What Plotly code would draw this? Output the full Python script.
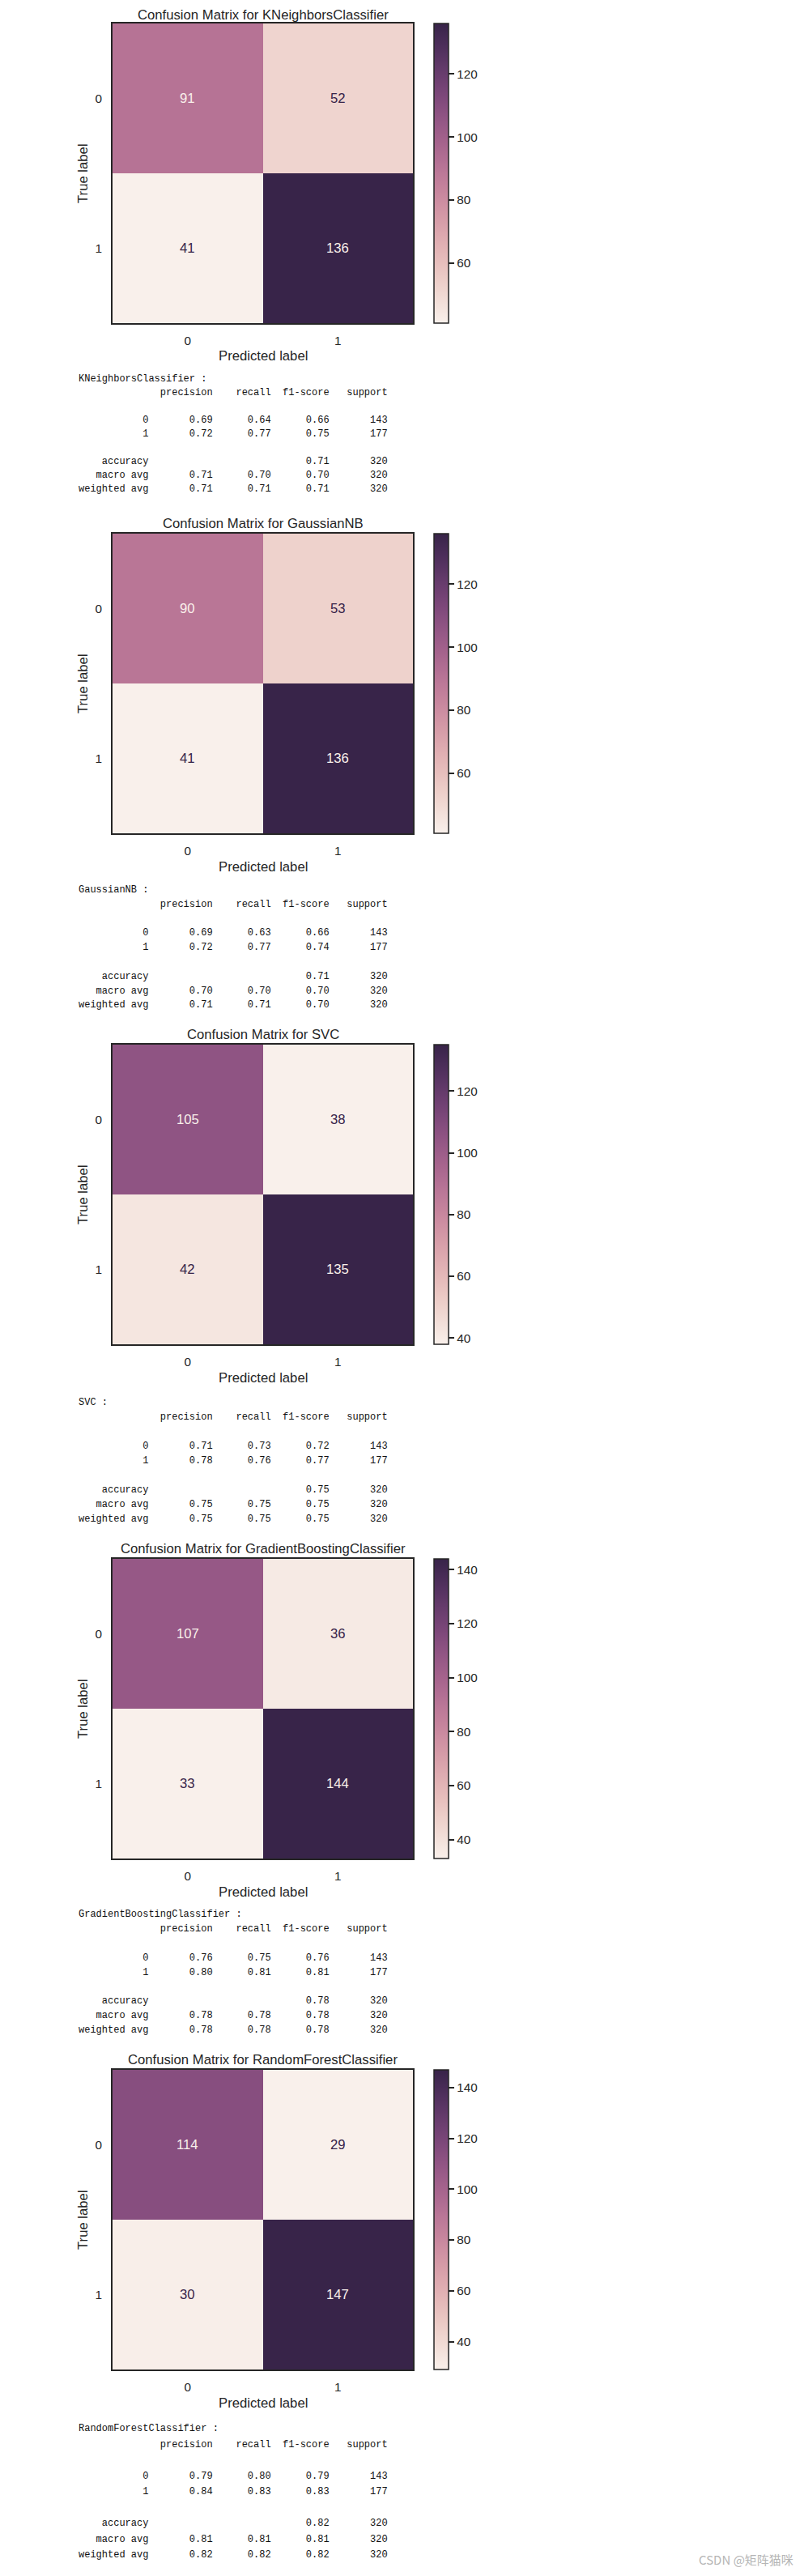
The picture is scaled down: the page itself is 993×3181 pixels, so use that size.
import numpy as np
import plotly.graph_objects as go

PAGE_W, PAGE_H = 993, 3181
OFF = 8  # default body margin of the html page
W, H = PAGE_W - 2 * OFF, PAGE_H - 2 * OFF

# ---------------- data ----------------
models = ["KNeighborsClassifier", "GaussianNB", "SVC",
          "GradientBoostingClassifier", "RandomForestClassifier"]
class_labels = ["0", "1"]

cm_knn = [[91, 52], [41, 136]]
cm_gnb = [[90, 53], [41, 136]]
cm_svc = [[105, 38], [42, 135]]
cm_gb = [[107, 36], [33, 144]]
cm_rf = [[114, 29], [30, 147]]

# rows: class 0, class 1 -> [precision, recall, f1, support]
rows_knn = [[0.69, 0.64, 0.66, 143], [0.72, 0.77, 0.75, 177]]
rows_gnb = [[0.69, 0.63, 0.66, 143], [0.72, 0.77, 0.74, 177]]
rows_svc = [[0.71, 0.73, 0.72, 143], [0.78, 0.76, 0.77, 177]]
rows_gb = [[0.76, 0.75, 0.76, 143], [0.80, 0.81, 0.81, 177]]
rows_rf = [[0.79, 0.80, 0.79, 143], [0.84, 0.83, 0.83, 177]]

# accuracy [f1, support]
acc_knn, acc_gnb, acc_svc, acc_gb, acc_rf = [0.71, 320], [0.71, 320], [0.75, 320], [0.78, 320], [0.82, 320]
# macro avg / weighted avg [precision, recall, f1, support]
macro_knn, weighted_knn = [0.71, 0.70, 0.70, 320], [0.71, 0.71, 0.71, 320]
macro_gnb, weighted_gnb = [0.70, 0.70, 0.70, 320], [0.71, 0.71, 0.70, 320]
macro_svc, weighted_svc = [0.75, 0.75, 0.75, 320], [0.75, 0.75, 0.75, 320]
macro_gb, weighted_gb = [0.78, 0.78, 0.78, 320], [0.78, 0.78, 0.78, 320]
macro_rf, weighted_rf = [0.81, 0.81, 0.81, 320], [0.82, 0.82, 0.82, 320]

cms = [cm_knn, cm_gnb, cm_svc, cm_gb, cm_rf]
rows_all = [rows_knn, rows_gnb, rows_svc, rows_gb, rows_rf]
accs = [acc_knn, acc_gnb, acc_svc, acc_gb, acc_rf]
macros = [macro_knn, macro_gnb, macro_svc, macro_gb, macro_rf]
weighteds = [weighted_knn, weighted_gnb, weighted_svc, weighted_gb, weighted_rf]

# ---------------- layout (page pixels) ----------------
panel_top = [29, 659, 1290, 1925, 2556]
panel_h = 370
hm_left, hm_right = 139, 510
cb_left, cb_w = 536, 18
text_x = 95
text_off = [69, 70, 72, 69, 73]
line_gap = [17, 17.8, 18, 17.9, 19.5]
title_gap = [10, 13, 13, 13, 13]

FONT = "Liberation Sans, Arial, sans-serif"
MONO = "Liberation Mono, DejaVu Sans Mono, monospace"
DARK = "#262626"


# seaborn-like cubehelix colormap (light -> dark)
def cubehelix(x, start=0.0, rot=0.4, gamma=1.0, hue=0.8):
    xg = x ** gamma
    a = hue * xg * (1 - xg) / 2
    phi = 2 * np.pi * (start / 3 + rot * x)
    r = xg + a * (-0.14861 * np.cos(phi) + 1.78277 * np.sin(phi))
    g = xg + a * (-0.29227 * np.cos(phi) - 0.90649 * np.sin(phi))
    b = xg + a * (1.97294 * np.cos(phi))
    return np.clip([r, g, b], 0, 1)


def rgb(c):
    return "rgb(%d,%d,%d)" % tuple(int(round(v * 255)) for v in c)


light, dark = 0.95, 0.18
samples = np.linspace(light, dark, 21)
colorscale = [[i / 20, rgb(cubehelix(s))] for i, s in enumerate(samples)]
c_min = rgb(cubehelix(light))
c_max = rgb(cubehelix(dark))


def py(p):
    return 1 - (p - OFF) / H


def px(p):
    return (p - OFF) / W


def nb(s):
    return s.replace(" ", "\u00a0")


def report_lines(name, rows, acc, macro, weighted):
    width = 12
    lines = [name + " :"]
    lines.append(" " * width + " " + "".join(" {:>9}".format(h) for h in ["precision", "recall", "f1-score", "support"]))
    lines.append("")
    for lab, r in zip(class_labels, rows):
        lines.append("{:>12s} ".format(lab) + "".join(" {:>9.2f}".format(v) for v in r[:3]) + " {:>9}".format(r[3]))
    lines.append("")
    lines.append("{:>12s} ".format("accuracy") + " {:>9}".format("") * 2 + " {:>9.2f}".format(acc[0]) + " {:>9}".format(acc[1]))
    lines.append("{:>12s} ".format("macro avg") + "".join(" {:>9.2f}".format(v) for v in macro[:3]) + " {:>9}".format(macro[3]))
    lines.append("{:>12s} ".format("weighted avg") + "".join(" {:>9.2f}".format(v) for v in weighted[:3]) + " {:>9}".format(weighted[3]))
    return lines


fig = go.Figure()
annotations = []

for i, name in enumerate(models):
    cm = np.array(cms[i])
    top = panel_top[i]
    bot = top + panel_h
    xa = "x" if i == 0 else "x%d" % (i + 1)
    ya = "y" if i == 0 else "y%d" % (i + 1)
    zmin, zmax = cm.min(), cm.max()

    fig.add_trace(go.Heatmap(
        z=cm, x=class_labels, y=class_labels, xaxis=xa, yaxis=ya,
        colorscale=colorscale, zmin=zmin, zmax=zmax, hoverinfo="z",
        colorbar=dict(
            x=px(cb_left), xanchor="left", xref="paper", xpad=0, ypad=0,
            y=py((top + bot) / 2), yanchor="middle", yref="paper",
            len=panel_h / H, lenmode="fraction",
            thickness=cb_w, thicknessmode="pixels",
            outlinewidth=1.5, outlinecolor=DARK,
            tickmode="linear", tick0=0, dtick=20,
            ticks="outside", ticklen=7, tickwidth=1.5, tickcolor=DARK,
            tickfont=dict(family=FONT, size=15.3, color=DARK),
        ),
    ))

    lay_x = "xaxis" if i == 0 else "xaxis%d" % (i + 1)
    lay_y = "yaxis" if i == 0 else "yaxis%d" % (i + 1)
    fig.layout[lay_x] = dict(
        domain=[px(hm_left), px(hm_right)], anchor=ya, type="category",
        showline=True, mirror=True, linecolor=DARK, linewidth=1.7,
        ticks="outside", ticklen=7, tickcolor="rgba(0,0,0,0)",
        tickfont=dict(family=FONT, size=15.3, color=DARK),
        showgrid=False, zeroline=False, fixedrange=True,
    )
    fig.layout[lay_y] = dict(
        domain=[py(bot), py(top)], anchor=xa, type="category",
        autorange="reversed",
        showline=True, mirror=True, linecolor=DARK, linewidth=1.7,
        ticks="outside", ticklen=8, tickcolor="rgba(0,0,0,0)",
        tickfont=dict(family=FONT, size=15.3, color=DARK),
        showgrid=False, zeroline=False, fixedrange=True,
    )

    # cell values
    thresh = (zmin + zmax) / 2
    for r in range(2):
        for c in range(2):
            v = cm[r][c]
            annotations.append(dict(
                x=class_labels[c], y=class_labels[r], xref=xa, yref=ya,
                text=str(v), showarrow=False,
                font=dict(family=FONT, size=16.7, color=c_min if v > thresh else c_max),
            ))

    # titles
    cx = px((hm_left + hm_right) / 2)
    annotations.append(dict(x=cx, y=py(top - title_gap[i]), xref="paper", yref="paper",
                            text="Confusion Matrix for " + name, showarrow=False,
                            xanchor="center", yanchor="middle",
                            font=dict(family=FONT, size=16.7, color=DARK)))
    annotations.append(dict(x=cx, y=py(bot + 41), xref="paper", yref="paper",
                            text="Predicted label", showarrow=False,
                            xanchor="center", yanchor="middle",
                            font=dict(family=FONT, size=16.7, color=DARK)))
    annotations.append(dict(x=px(102), y=py((top + bot) / 2), xref="paper", yref="paper",
                            text="True label", showarrow=False, textangle=-90,
                            xanchor="center", yanchor="middle",
                            font=dict(family=FONT, size=16.7, color=DARK)))

    # classification report text
    lines = report_lines(name, rows_all[i], accs[i], macros[i], weighteds[i])
    for k, ln in enumerate(lines):
        if not ln.strip():
            continue
        annotations.append(dict(
            x=px(text_x), y=py(bot + text_off[i] + k * line_gap[i]),
            xref="paper", yref="paper", text=nb(ln), showarrow=False,
            xanchor="left", yanchor="middle",
            font=dict(family=MONO, size=12, color="#111111"),
        ))

# watermark
annotations.append(dict(x=px(982), y=py(3160), xref="paper", yref="paper",
                        text="CSDN @矩阵猫咪", showarrow=False,
                        xanchor="right", yanchor="middle",
                        font=dict(family="Noto Sans CJK SC, Liberation Sans, sans-serif",
                                  size=15, color="#b5b5b5")))

fig.update_layout(
    width=W, height=H, margin=dict(l=0, r=0, t=0, b=0),
    paper_bgcolor="white", plot_bgcolor="white",
    annotations=annotations, showlegend=False,
)

fig.write_html("out.html")
